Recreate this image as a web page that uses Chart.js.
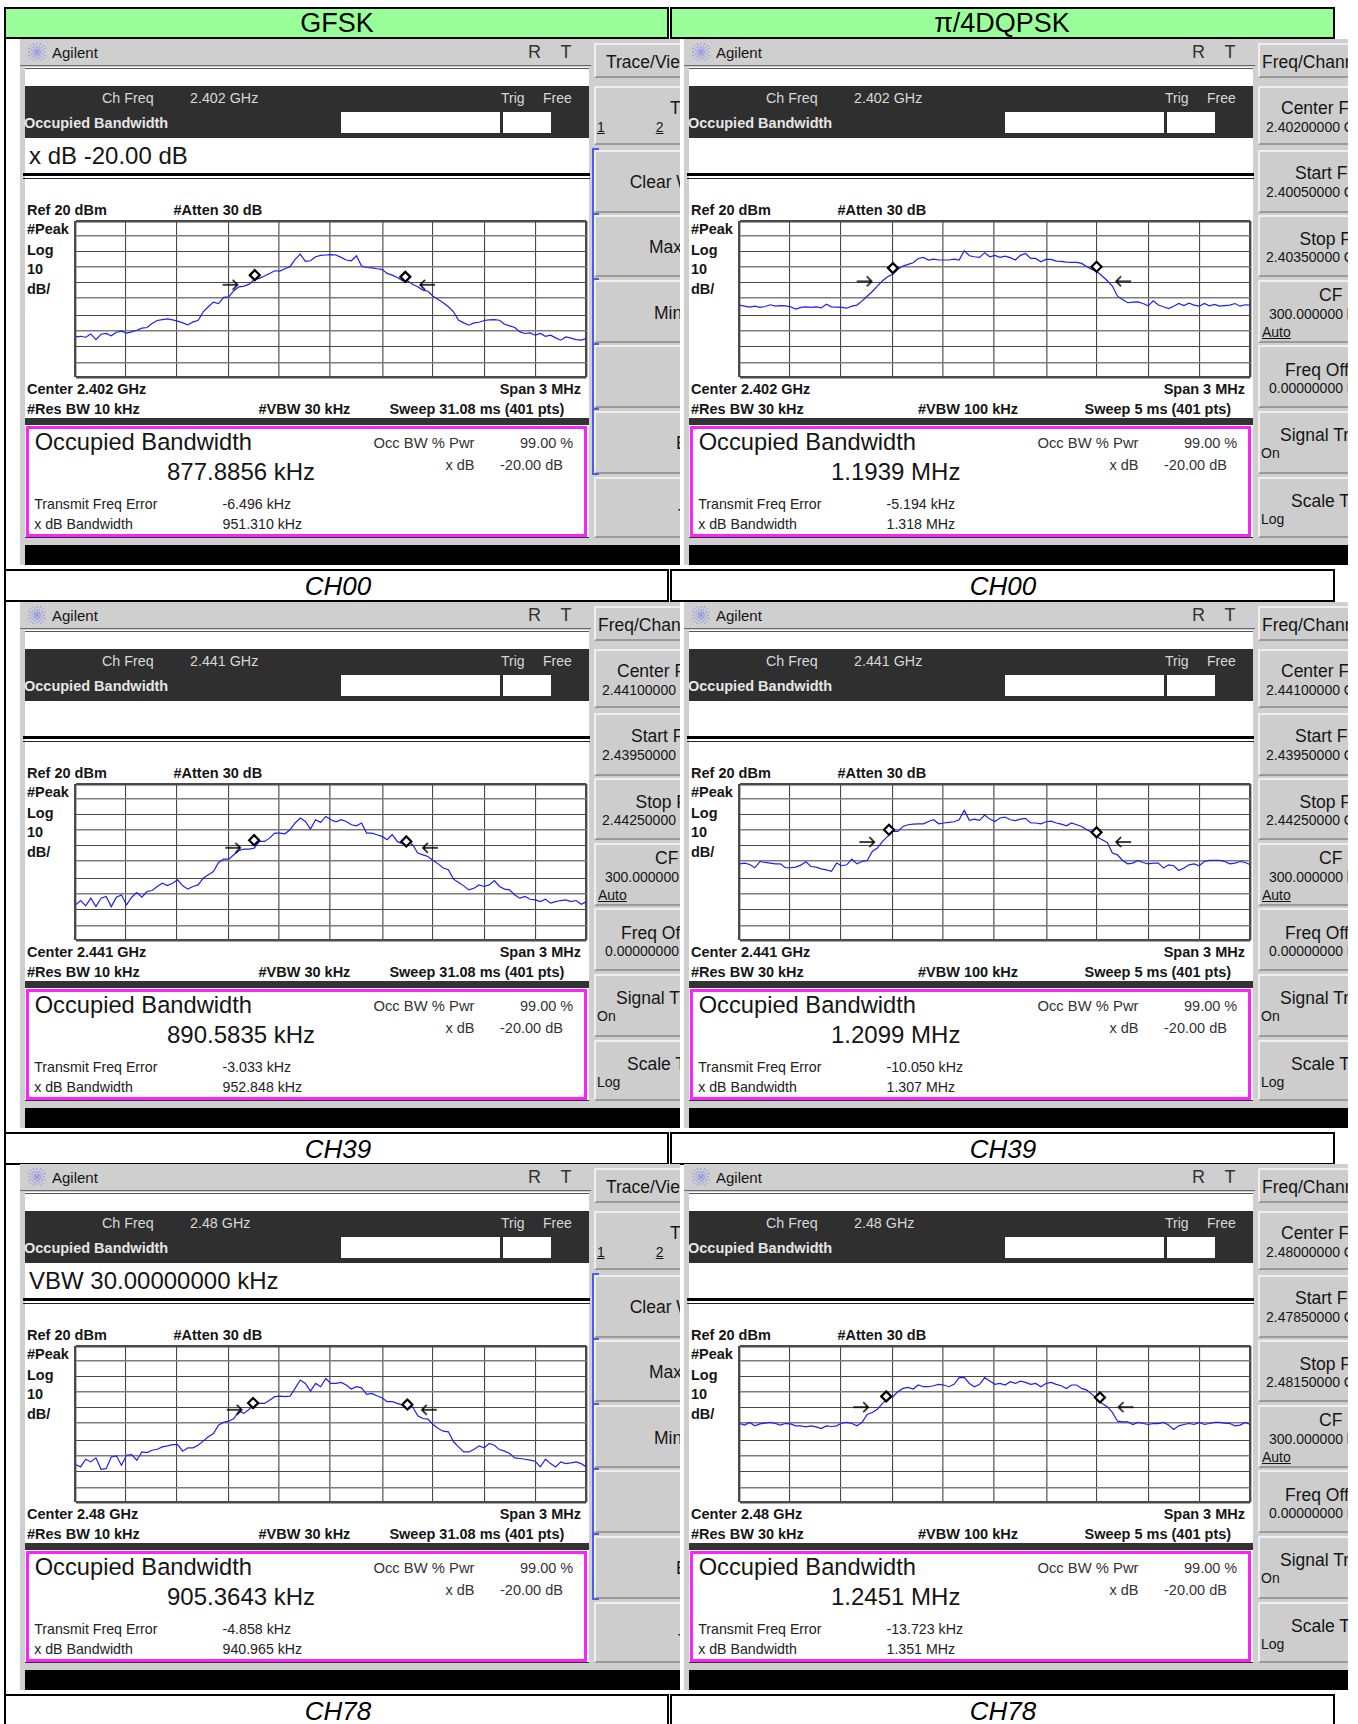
<!DOCTYPE html>
<html>
<head>
<meta charset="utf-8">
<title>Occupied Bandwidth</title>
<script src="https://cdn.jsdelivr.net/npm/chart.js@4"></script>
<style>
  html, body { margin: 0; background: #fff; }
  #page { position: relative; width: 1358px; height: 1724px; overflow: hidden; font-family: "Liberation Sans", Arial, sans-serif; }
  .box { position: absolute; box-sizing: border-box; }
  .t { position: absolute; white-space: nowrap; transform: translateY(-50%); line-height: 1; color: #151515; }
  .panel { position: absolute; overflow: hidden; background: #cfcfcf; }
  .key { position: absolute; box-sizing: border-box; background: #cdcdcd; border: 2px solid; border-color: #efefef #a8a8a8 #9a9a9a #efefef; }
  canvas { position: absolute; }
</style>
</head>
<body>
<div id="page"></div>
<script>
// sweep frequency, MHz from centre
const freqOffsets = [
  -1.5,-1.47,-1.44,-1.41,-1.38,-1.35,-1.32,-1.29,-1.26,-1.23,
  -1.2,-1.17,-1.14,-1.11,-1.08,-1.05,-1.02,-0.99,-0.96,-0.93,
  -0.9,-0.87,-0.84,-0.81,-0.78,-0.75,-0.72,-0.69,-0.66,-0.63,
  -0.6,-0.57,-0.54,-0.51,-0.48,-0.45,-0.42,-0.39,-0.36,-0.33,
  -0.3,-0.27,-0.24,-0.21,-0.18,-0.15,-0.12,-0.09,-0.06,-0.03,
  0,0.03,0.06,0.09,0.12,0.15,0.18,0.21,0.24,0.27,
  0.3,0.33,0.36,0.39,0.42,0.45,0.48,0.51,0.54,0.57,
  0.6,0.63,0.66,0.69,0.72,0.75,0.78,0.81,0.84,0.87,
  0.9,0.93,0.96,0.99,1.02,1.05,1.08,1.11,1.14,1.17,
  1.2,1.23,1.26,1.29,1.32,1.35,1.38,1.41,1.44,1.47,
  1.5];

// traces, dBm
const gfskCh00 = [
  -54.3,-53.9,-54.5,-52.4,-56,-52.6,-52.1,-53.6,-51.3,-50.6,
  -51.9,-51.1,-50,-48.7,-48.3,-45.7,-43.8,-43.2,-42.7,-43.4,
  -44.2,-45.3,-46.6,-44.7,-43.8,-38.2,-35,-32,-32.9,-29,
  -28.6,-24.7,-22.2,-21.7,-20.5,-17.5,-16.8,-15.3,-13.6,-11.9,
  -12.1,-10.6,-9.3,-4.6,-1.2,-5.9,-5.5,-2.9,-2,-1.8,
  -1.6,-1.8,-3.3,-5,-5.5,-2.3,-8.9,-9.8,-10,-10.6,
  -11,-13.6,-14.7,-16.2,-18.3,-18.3,-20.5,-22.2,-24.3,-25,
  -28.2,-30.3,-32.4,-35,-38.2,-43.6,-45.3,-46.8,-45.3,-44.9,
  -43.8,-43.4,-43.2,-43.6,-46.2,-47.2,-48.3,-51.1,-52.1,-51.7,
  -53.2,-52.1,-53.9,-53.2,-54.9,-56.4,-54.3,-55.1,-56,-56.4,
  -55.4];
const dqpskCh00 = [
  -33.9,-34.6,-35.2,-34.6,-35.4,-34.8,-33.7,-34.6,-34.2,-34.4,
  -35,-36.5,-35.4,-35,-35.4,-35,-35.7,-33.3,-35,-35.2,
  -35.4,-35.9,-34.6,-33.9,-31.2,-28.2,-25.2,-21.7,-18.3,-15.7,
  -14.2,-11,-8.9,-7.8,-6.8,-4,-3.3,-5,-4.4,-5,
  -5,-5,-4.4,-5,1,-2.3,-2.9,-3.3,-0.3,-2.9,
  -2,-3.3,-2.5,-3.5,-5,-2,-0.8,-4,-4,-6.1,
  -4.6,-4.6,-5.7,-5.9,-6.3,-6.5,-6.5,-7.2,-9.3,-11,
  -12.5,-15.3,-18.3,-21.7,-28.2,-30.3,-32.4,-32,-31.8,-32.9,
  -34.4,-31.2,-33.9,-35,-36.1,-34.6,-32.9,-34.2,-32.7,-33.9,
  -34.6,-32.9,-34.4,-33.5,-34.6,-34.2,-33.9,-32.9,-34.6,-33.7,
  -33.9];
const gfskCh39 = [
  -57.5,-54.7,-58.1,-53.2,-58.6,-53.2,-52.1,-58.6,-52.6,-51.1,
  -57.5,-52.6,-49.6,-52.6,-48.9,-48.3,-45.7,-43.6,-45.1,-43.6,
  -41.4,-45.3,-47.4,-45.7,-44.7,-40.4,-38.2,-36.1,-30.3,-28.2,
  -28.2,-25.4,-22.6,-21.7,-21.7,-21.1,-16.8,-16.8,-14.7,-11.5,
  -11.5,-11.9,-9.3,-5,-1.8,-4,-8.9,-2.9,-4.6,-0.8,
  -2.9,-4.2,-2.9,-4,-6.1,-6.8,-5,-11.5,-11.5,-12.5,
  -13.6,-15.7,-12.5,-16.8,-18.3,-16.8,-18.9,-24.3,-25.4,-26.5,
  -29,-31.2,-33.9,-35,-41,-43.2,-45.3,-47.9,-46.8,-44.7,
  -45.7,-44.7,-41.9,-45.7,-47.4,-47.9,-51.1,-53.2,-52.1,-53.9,
  -54.3,-55.4,-53.9,-56.4,-55.4,-54.7,-54.3,-55.4,-54.7,-57.1,
  -55.4];
const dqpskCh39 = [
  -31.2,-30.7,-31.6,-33.7,-29.7,-30.3,-30.7,-31.2,-31.2,-33.7,
  -33.7,-33.3,-32,-29.9,-32.9,-33.3,-34.4,-35,-35.9,-30.7,
  -32.4,-31.8,-28.2,-31.2,-29.7,-29,-23.2,-21.1,-16.8,-13.6,
  -10.4,-10.4,-7.2,-6.1,-5.7,-5.5,-5.5,-4,-2.9,-5.5,
  -5,-4.6,-4.2,-2.9,3.1,-3.3,-2.5,-3.3,0.1,-2.5,
  -4,-1.8,-1.2,-2.9,-3.5,-2.5,-2,-5,-5,-5.5,
  -4.2,-3.8,-5,-5.7,-6.8,-5,-6.1,-7.2,-9.3,-11,
  -14,-15.7,-17.5,-24.3,-25.4,-29,-31.2,-30.7,-29,-30.3,
  -31.2,-30.7,-30.7,-33.9,-31.8,-32.4,-35.4,-33.9,-31.8,-31.2,
  -32.4,-29.7,-29,-29,-29,-29.7,-31.2,-30.7,-29.7,-30.3,
  -31.8];
const gfskCh78 = [
  -56,-57.5,-52.6,-54.3,-51.7,-59,-58.6,-51.1,-50.4,-56.4,
  -50,-49.6,-53.2,-47.9,-48.3,-46.8,-46.2,-44.7,-44,-43.2,
  -43.2,-47.4,-45.3,-45.3,-43.6,-41,-38.2,-36.1,-30.7,-29,
  -28.2,-26.5,-21.7,-23.2,-20.5,-17.9,-16.8,-16.8,-14.7,-12.5,
  -12.1,-12.5,-12.1,-7.2,-1.8,-4,-8.9,-4,-6.1,-0.8,
  -4,-4,-3.3,-5,-7.6,-6.1,-6.8,-11,-10.4,-11.9,
  -13.2,-15.7,-15.7,-16.8,-17.9,-20.5,-18.9,-24.7,-26.5,-26.9,
  -30.3,-32.9,-34.6,-35,-41.4,-44.7,-47.9,-47.9,-46.4,-44,
  -45.3,-42.5,-43.6,-46.4,-47.4,-48.9,-51.7,-52.1,-52.6,-53.2,
  -53.9,-57.5,-52.6,-55.4,-57.5,-54.3,-55.4,-54.9,-54.3,-55.4,
  -57.5];
const dqpskCh78 = [
  -29.7,-30.7,-29,-31.2,-29.9,-29.4,-29,-29.7,-30.7,-29.7,
  -29.9,-31.2,-31.2,-31.8,-31.2,-31.8,-32.9,-31.2,-31.6,-31.2,
  -29.4,-29,-29.7,-31.2,-29,-23.9,-22.6,-20.5,-16.8,-14,
  -12.5,-9.3,-7.2,-6.5,-7.6,-5,-6.1,-6.1,-5.5,-4.6,
  -5,-6.1,-4.6,-0.3,-0.1,-4,-6.1,-4.6,-0.3,-2.5,
  -4.6,-4,-5,-2.9,-4,-2.5,-3.3,-4.6,-4,-6.1,
  -4,-3.3,-4.6,-5.5,-7.2,-5,-5,-7.2,-8.3,-11,
  -13.6,-16.8,-18.9,-22.6,-28.2,-28.6,-28.6,-30.3,-29,-29.7,
  -30.3,-29.7,-29.7,-29,-30.7,-33.5,-31.2,-30.3,-29.7,-30.3,
  -29,-30.3,-29.7,-29,-29,-29.4,-29.7,-31.2,-30.7,-29,
  -30.3];

// marker diamonds and x dB arrows: [x MHz, dBm]
const diamondsGfskCh00 = [[-0.447,-14.7],[0.437,-15.8]];
const diamondsDqpskCh00 = [[-0.599,-10.2],[0.597,-9.3]];
const diamondsGfskCh39 = [[-0.451,-16],[0.443,-16.8]];
const diamondsDqpskCh39 = [[-0.622,-9.3],[0.597,-11]];
const diamondsGfskCh78 = [[-0.457,-16.6],[0.449,-17.5]];
const diamondsDqpskCh78 = [[-0.638,-12.3],[0.617,-13]];
const arrowsGfskCh00 = [[-0.589,-20.9],[0.565,-20.9]];
const arrowsDqpskCh00 = [[-0.765,-18.7],[0.753,-18.7]];
const arrowsGfskCh39 = [[-0.573,-20.9],[0.581,-20.9]];
const arrowsDqpskCh39 = [[-0.749,-17.2],[0.753,-17.2]];
const arrowsGfskCh78 = [[-0.565,-20.9],[0.575,-20.9]];
const arrowsDqpskCh78 = [[-0.785,-19.2],[0.767,-19.2]];

// graticule as it sits on the screenshot
const xGridLines = [-1.5,-1.206,-0.907,-0.601,-0.304,-0.006,0.302,0.597,0.903,1.202,1.5];
const yGridLines = [20,10.4,0.3,-9.5,-19.4,-29.2,-40.6,-50.7,-60.5,-70.6,-80];

// readouts
const modulations = ['GFSK', 'π/4DQPSK'];
const channels = ['CH00', 'CH39', 'CH78'];
const chFreqs = ['2.402 GHz', '2.441 GHz', '2.48 GHz'];
const centerVals = ['2.40200000 G', '2.44100000 G', '2.48000000 G'];
const startVals = ['2.40050000 G', '2.43950000 G', '2.47850000 G'];
const stopVals = ['2.40350000 G', '2.44250000 G', '2.48150000 G'];
const occBw = [['877.8856 kHz', '890.5835 kHz', '905.3643 kHz'], ['1.1939 MHz', '1.2099 MHz', '1.2451 MHz']];
const freqErr = [['-6.496 kHz', '-3.033 kHz', '-4.858 kHz'], ['-5.194 kHz', '-10.050 kHz', '-13.723 kHz']];
const xdbBw = [['951.310 kHz', '952.848 kHz', '940.965 kHz'], ['1.318 MHz', '1.307 MHz', '1.351 MHz']];
const resBw = ['#Res BW 10 kHz', '#Res BW 30 kHz'];
const vbw = ['#VBW 30 kHz', '#VBW 100 kHz'];
const sweep = ['Sweep 31.08 ms (401 pts)', 'Sweep 5 ms (401 pts)'];
const traces = [[gfskCh00, gfskCh39, gfskCh78], [dqpskCh00, dqpskCh39, dqpskCh78]];
const diamonds = [[diamondsGfskCh00, diamondsGfskCh39, diamondsGfskCh78], [diamondsDqpskCh00, diamondsDqpskCh39, diamondsDqpskCh78]];
const arrows = [[arrowsGfskCh00, arrowsGfskCh39, arrowsGfskCh78], [arrowsDqpskCh00, arrowsDqpskCh39, arrowsDqpskCh78]];
const messages = [['x dB -20.00 dB', '', 'VBW 30.00000000 kHz'], ['', '', '']];

const page = document.getElementById('page');
const colX = [0, 664];
const rowY = [0, 563, 1125];

function box(parent, x, y, w, h, css) {
  const d = document.createElement('div');
  d.className = 'box';
  d.style.cssText = `left:${x}px;top:${y}px;width:${w}px;height:${h}px;${css || ''}`;
  parent.appendChild(d);
  return d;
}
function text(parent, x, y, s, size, css) {
  const d = document.createElement('div');
  d.className = 't';
  d.textContent = s;
  d.style.cssText = `left:${x}px;top:${y}px;font-size:${size}px;${css || ''}`;
  parent.appendChild(d);
  return d;
}

// table frame
box(page, 4, 7, 665, 32, 'background:#99ff99;border:2px solid #000;');
box(page, 670, 7, 665, 32, 'background:#99ff99;border:2px solid #000;');
box(page, 4, 7, 2, 1717, 'background:#000;');
text(page, 337, 23, modulations[0], 27, 'transform:translate(-50%,-50%);color:#000;');
text(page, 1002, 23, modulations[1], 27, 'transform:translate(-50%,-50%);color:#000;');
channels.forEach((ch, r) => {
  const y = 569 + rowY[r];
  box(page, 4, y, 665, 33, 'border:2px solid #000;');
  box(page, 670, y, 665, 33, 'border:2px solid #000;');
  text(page, 338, y + 17, ch, 26, 'transform:translate(-50%,-50%);font-style:italic;color:#000;');
  text(page, 1003, y + 17, ch, 26, 'transform:translate(-50%,-50%);font-style:italic;color:#000;');
});

function star(parent) {
  const ns = 'http://www.w3.org/2000/svg';
  const svg = document.createElementNS(ns, 'svg');
  svg.setAttribute('width', 18);
  svg.setAttribute('height', 18);
  svg.style.cssText = 'position:absolute;left:8px;top:4px;';
  [[9,0,9,18],[0,9,18,9],[2,2,16,16],[2,16,16,2],[5,0,13,18],[13,0,5,18],[0,5,18,13],[0,13,18,5]].forEach(p => {
    const l = document.createElementNS(ns, 'line');
    l.setAttribute('x1', p[0]); l.setAttribute('y1', p[1]); l.setAttribute('x2', p[2]); l.setAttribute('y2', p[3]);
    l.setAttribute('stroke', '#8f92ee'); l.setAttribute('stroke-width', 1); l.setAttribute('stroke-dasharray', '2 1');
    svg.appendChild(l);
  });
  parent.appendChild(svg);
}

function softkeys(p, c, r) {
  const ox = 19.5, oy = 39;
  const sizes = 17.5, small = 14;
  [[43,78],[86,145],[150,213],[215,277],[280,343],[345,408],[411,474],[477,538]].forEach(k => {
    const el = document.createElement('div');
    el.className = 'key';
    el.style.cssText = `left:${594 - ox}px;top:${k[0] - oy}px;width:100px;height:${k[1] - k[0]}px;`;
    p.appendChild(el);
  });
  const put = (x, y, s, size, css) => text(p, x - ox, y - oy, s, size, css);
  if (c === 0 && r !== 1) {
    put(606, 63, 'Trace/View', sizes);
    put(670, 108.5, 'Trace', sizes);
    put(597, 127, '1', small, 'text-decoration:underline;');
    put(655.7, 127, '2', small, 'text-decoration:underline;');
    put(629.7, 183, 'Clear Write', sizes);
    put(649, 248, 'Max Hold', sizes);
    put(654, 314, 'Min Hold', sizes);
    put(676, 444, 'Blank', sizes);
    put(678, 517, 'Trace', sizes);
    // blue bracket round the trace keys
    box(p, 592 - ox, 148 - oy, 2.4, 326, 'background:#4d5cf0;');
    [148, 213, 278, 343, 408, 473].forEach(y => box(p, 592 - ox, y - oy, 7, 2, 'background:#4d5cf0;'));
  } else {
    put(598, 63, 'Freq/Channel', sizes);
    put(617, 108.5, 'Center Freq', sizes);
    put(602, 126.7, centerVals[r], small);
    put(631, 174, 'Start Freq', sizes);
    put(602, 191.7, startVals[r], small);
    put(635.5, 239.5, 'Stop Freq', sizes);
    put(602, 256.7, stopVals[r], small);
    put(655, 295.5, 'CF Step', sizes);
    put(605, 314, '300.000000 kHz', small);
    put(598, 332.3, 'Auto', small, 'text-decoration:underline;');
    put(621, 371, 'Freq Offset', sizes);
    put(605, 388.3, '0.00000000 Hz', small);
    put(616, 436, 'Signal Track', sizes);
    put(597, 453, 'On', small);
    put(627, 501.5, 'Scale Type', sizes);
    put(597, 519, 'Log', small);
  }
}

function arrowStyle(dir) {
  const cv = document.createElement('canvas');
  cv.width = 18; cv.height = 12;
  const g = cv.getContext('2d');
  g.strokeStyle = '#000'; g.lineWidth = 1.5;
  g.beginPath();
  if (dir > 0) { g.moveTo(1, 6); g.lineTo(16, 6); g.moveTo(11, 1); g.lineTo(16, 6); g.lineTo(11, 11); }
  else { g.moveTo(17, 6); g.lineTo(2, 6); g.moveTo(7, 1); g.lineTo(2, 6); g.lineTo(7, 11); }
  g.stroke();
  return cv;
}
const pairs = a => a.map(p => ({ x: p[0], y: p[1] }));

function plot(p, c, r) {
  const cv = document.createElement('canvas');
  cv.width = 518; cv.height = 162;
  cv.style.cssText = `left:${72 - 19.5}px;top:${218 - 39}px;width:518px;height:162px;`;
  p.appendChild(cv);
  new Chart(cv, {
    type: 'line',
    data: {
      datasets: [
        { data: pairs(diamonds[c][r]), showLine: false, pointStyle: 'rectRot', pointRadius: 5, pointBackgroundColor: '#fff', pointBorderColor: '#000', pointBorderWidth: 2.2 },
        { data: pairs(arrows[c][r].slice(0, 1)), showLine: false, pointStyle: arrowStyle(1) },
        { data: pairs(arrows[c][r].slice(1)), showLine: false, pointStyle: arrowStyle(-1) },
        { data: freqOffsets.map((f, i) => ({ x: f, y: traces[c][r][i] })), borderColor: '#1f1fee', borderWidth: 1.2, pointRadius: 0, tension: 0 }
      ]
    },
    options: {
      responsive: false,
      animation: false,
      layout: { autoPadding: false, padding: { left: 3.5, right: 3.7, top: 3, bottom: 3 } },
      plugins: { legend: { display: false }, tooltip: { enabled: false } },
      scales: {
        x: {
          type: 'linear', min: -1.5, max: 1.5,
          afterBuildTicks: s => { s.ticks = xGridLines.map(v => ({ value: v })); },
          ticks: { display: false, autoSkip: false },
          border: { display: false },
          grid: {
            drawTicks: false,
            color: ctx => (ctx.index === 0 || ctx.index === 10) ? '#4a4a4a' : ([4, 5, 6].includes(ctx.index) ? '#7c7c7c' : '#484848'),
            lineWidth: ctx => (ctx.index === 0 || ctx.index === 10) ? 2.4 : ([4, 5, 6].includes(ctx.index) ? 1.6 : 1.1)
          }
        },
        y: {
          min: -80, max: 20,
          afterBuildTicks: s => { s.ticks = yGridLines.map(v => ({ value: v })); },
          ticks: { display: false, autoSkip: false },
          border: { display: false },
          grid: {
            drawTicks: false,
            color: ctx => (ctx.index === 0 || ctx.index === 10) ? '#4a4a4a' : (ctx.index % 2 === 1 ? '#7c7c7c' : '#484848'),
            lineWidth: ctx => (ctx.index === 0 || ctx.index === 10) ? 2.4 : (ctx.index % 2 === 1 ? 1.6 : 1.1)
          }
        }
      }
    }
  });
}

function panel(c, r) {
  const ox = 19.5, oy = 39;
  const p = document.createElement('div');
  p.className = 'panel';
  const clip = c === 0 ? 680 : 684;
  p.style.cssText = `left:${ox + colX[c]}px;top:${oy + rowY[r]}px;width:${clip - ox}px;height:${565 - oy}px;`;
  page.appendChild(p);
  const B = (x, y, w, h, css) => box(p, x - ox, y - oy, w, h, css);
  const T = (x, y, s, size, css) => text(p, x - ox, y - oy, s, size, css);
  const scopeBold = 'font-weight:bold;';

  star(p);
  T(52, 52, 'Agilent', 15);
  T(528, 52, 'R', 18, 'color:#333;');
  T(560.5, 52, 'T', 18, 'color:#333;');
  B(19.5, 64.5, 571, 1.6, 'background:#666;');

  // analyzer screen
  B(24.7, 67, 564, 351, 'background:#fff;');
  B(24.7, 67.5, 564, 1.2, 'background:#555;');
  B(24.7, 85.7, 564, 52.6, 'background:#2f2f2f;');
  T(102, 98, 'Ch Freq', 14.3, 'color:#d8d8d8;');
  T(190, 98, chFreqs[r], 14.3, 'color:#d8d8d8;');
  T(501, 98, 'Trig', 14, 'color:#d8d8d8;');
  T(543, 98, 'Free', 14, 'color:#d8d8d8;');
  T(24, 123, 'Occupied Bandwidth', 14.5, 'color:#e6e6e6;font-weight:bold;');
  B(341, 111.7, 158.5, 21, 'background:#fff;');
  B(503, 111.7, 47.7, 21, 'background:#fff;');
  if (messages[c][r]) T(29, 155.7, messages[c][r], 24);
  B(22.5, 172.5, 567, 3.2, 'background:#000;');
  B(22.5, 177.6, 567, 1, 'background:#222;');

  T(27, 210, 'Ref 20 dBm', 14.5, scopeBold);
  T(173.5, 210, '#Atten 30 dB', 14.5, scopeBold);
  T(27, 229, '#Peak', 14.5, scopeBold);
  T(27, 249.6, 'Log', 14.5, scopeBold);
  T(27, 269, '10', 14.5, scopeBold);
  T(27, 289, 'dB/', 14.5, scopeBold);
  plot(p, c, r);
  T(27, 389.2, 'Center ' + chFreqs[r], 14.5, scopeBold);
  T(581, 389.2, 'Span 3 MHz', 14.5, scopeBold + 'transform:translate(-100%,-50%);');
  T(27, 409.2, resBw[c], 14.5, scopeBold);
  T(c === 0 ? 258.5 : 254, 409.2, vbw[c], 14.5, scopeBold);
  T(c === 0 ? 389.4 : 420.5, 409.2, sweep[c], 14.5, scopeBold);
  B(24.7, 418, 564, 6.5, 'background:#333;');

  // result box
  B(24.7, 424.5, 564, 113.5, 'background:#fff;');
  B(26, 426, 561, 110.5, 'border:3px solid #ff22ff;background:#fff;');
  B(24.7, 537, 564, 1, 'background:#333;');
  T(34.7, 443.3, 'Occupied Bandwidth', 23.7);
  T(167, 472.3, occBw[c][r], 24);
  T(373.4, 443.2, 'Occ BW % Pwr', 14.8, 'color:#333;');
  T(520, 443.2, '99.00 %', 14.5, 'color:#333;');
  T(445.4, 465, 'x dB', 14.5, 'color:#333;');
  T(500, 465, '-20.00 dB', 14.5, 'color:#333;');
  T(34.2, 504, 'Transmit Freq Error', 14.2, 'color:#222;');
  T(222.5, 504, freqErr[c][r], 14.2, 'color:#222;');
  T(34.2, 524, 'x dB Bandwidth', 14.2, 'color:#222;');
  T(222.5, 524, xdbBw[c][r], 14.2, 'color:#222;');

  B(24.5, 545, 700, 20, 'background:#000;');
  softkeys(p, c, r);
}

[0, 1].forEach(c => [0, 1, 2].forEach(r => panel(c, r)));
</script>
</body>
</html>
